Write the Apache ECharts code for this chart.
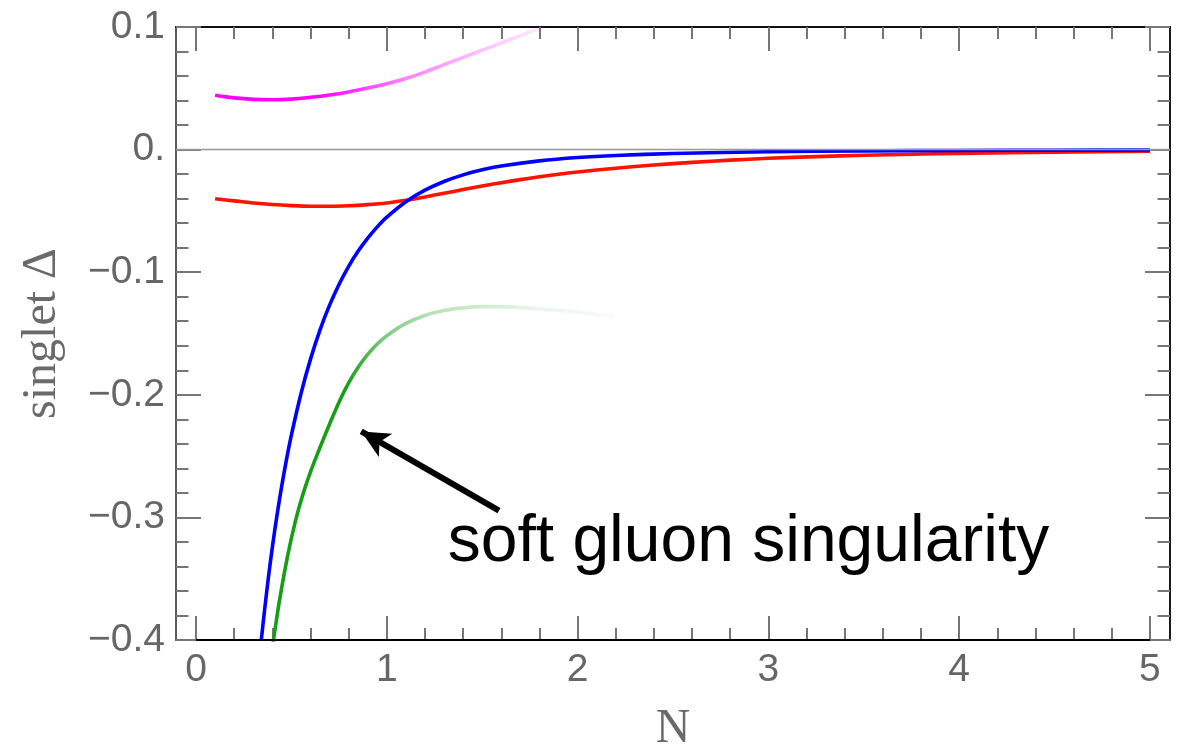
<!DOCTYPE html>
<html>
<head>
<meta charset="utf-8">
<script src="https://cdn.jsdelivr.net/npm/echarts@6/dist/echarts.min.js"></script>
<style>
  html, body { margin: 0; padding: 0; background: #fff; }
  #chart { width: 1190px; height: 746px; }
</style>
</head>
<body>
<div id="chart"></div>
<script>
// Singlet anomalous-dimension differences versus Mellin N

// magenta curve
const magentaN = [0.1, 0.2, 0.3, 0.4, 0.5, 0.6, 0.7, 0.8, 0.9, 1.0, 1.1, 1.2, 1.3, 1.4, 1.5, 1.6, 1.7, 1.8, 1.82];
const magentaD = [0.0443, 0.0422, 0.0410, 0.0406, 0.0412, 0.0427, 0.0446, 0.0470, 0.0502, 0.0537, 0.0580, 0.0632, 0.0693, 0.0752, 0.0811, 0.0870, 0.0930, 0.0990, 0.1002];

// red curve
const redN = [0.1, 0.2, 0.3, 0.4, 0.5, 0.6, 0.7, 0.8, 0.9, 1.0, 1.1, 1.2, 1.3, 1.4, 1.5, 1.6, 1.7, 1.8, 1.9, 2.0, 2.2, 2.4, 2.6, 2.8, 3.0, 3.25, 3.5, 3.75, 4.0, 4.5, 5.0];
const redD = [-0.0401, -0.0418, -0.0435, -0.0448, -0.0457, -0.0462, -0.0462, -0.0458, -0.0449, -0.0435, -0.0413, -0.0386, -0.0356, -0.0326, -0.0297, -0.0270, -0.0245, -0.0222, -0.0201, -0.0183, -0.0152, -0.0126, -0.0104, -0.0086, -0.0071, -0.0057, -0.0046, -0.0038, -0.0031, -0.0021, -0.0014];

// blue curve
const blueN = [0.342, 0.36, 0.38, 0.40, 0.425, 0.45, 0.475, 0.50, 0.55, 0.60, 0.65, 0.70, 0.75, 0.80, 0.85, 0.90, 0.95, 1.0, 1.1, 1.2, 1.3, 1.4, 1.5, 1.6, 1.8, 2.0, 2.2, 2.5, 3.0, 3.5, 4.0, 4.5, 5.0];
const blueD = [-0.4, -0.3746, -0.3481, -0.3243, -0.2976, -0.2737, -0.2521, -0.2327, -0.1991, -0.1709, -0.1470, -0.1269, -0.1098, -0.0952, -0.0828, -0.0722, -0.0630, -0.0551, -0.0425, -0.0331, -0.0260, -0.0206, -0.0165, -0.0134, -0.0092, -0.0065, -0.0048, -0.0032, -0.0018, -0.0011, -0.0007, -0.0005, -0.0003];

// green curve (soft gluon singularity)
const greenN = [0.40, 0.42, 0.44, 0.48, 0.52, 0.56, 0.60, 0.65, 0.70, 0.75, 0.80, 0.85, 0.90, 0.95, 1.0, 1.1, 1.2, 1.3, 1.4, 1.5, 1.6, 1.7, 1.8, 1.9, 2.0, 2.1, 2.19];
const greenD = [-0.407, -0.3851, -0.3654, -0.3314, -0.3036, -0.2812, -0.2628, -0.2428, -0.2238, -0.2058, -0.1903, -0.1776, -0.1671, -0.1586, -0.1518, -0.1418, -0.1353, -0.1313, -0.1291, -0.1281, -0.1281, -0.1288, -0.1298, -0.1311, -0.1326, -0.1343, -0.1359];

// tick labels
const xTicks = [0, 1, 2, 3, 4, 5];
const yTicks = [0.1, 0, -0.1, -0.2, -0.3, -0.4];

// annotation
const noteText = 'soft gluon singularity';
const noteAt = [1.319, -0.3206];
const arrowFrom = [1.588, -0.2945];
const arrowTo = [0.866, -0.2299];

const X_MIN = -0.105, X_MAX = 5.105;
const Y_MIN = -0.4, Y_MAX = 0.1;

const xMinor = [];
for (let i = 1; i < 25; i++) if (i % 5) xMinor.push(Math.round(i * 20) / 100);
const yMinor = [];
for (let i = -19; i < 5; i++) if (i % 5) yMinor.push(Math.round(i * 2) / 100);

const zip = (xs, ys) => xs.map((x, i) => [x, ys[i]]);

const tickStyle = { color: '#767676', width: 2 };
const labelFont = { fontSize: 39, color: '#666', fontFamily: 'Liberation Sans' };
const titleFont = { fontSize: 48, color: '#6a6a6a', fontFamily: 'Liberation Serif' };

function yLabel(v) {
  if (Math.abs(v) < 1e-9) return '0.';
  return (v < 0 ? '\u2212' : '') + Math.abs(v).toFixed(1);
}

function xAxisDef(pos, ticks, len, lineColor, labels) {
  return {
    type: 'value', position: pos, min: X_MIN, max: X_MAX,
    axisLine: { show: !!lineColor, onZero: false, lineStyle: { color: lineColor || '#000', width: 2 } },
    axisTick: { show: true, inside: true, length: len, customValues: ticks, lineStyle: tickStyle },
    axisLabel: labels ? Object.assign({ show: true, customValues: xTicks, margin: 11, formatter: v => String(v) }, labelFont) : { show: false },
    splitLine: { show: false },
    name: labels ? 'N' : '', nameLocation: 'middle', nameGap: 65, nameTextStyle: titleFont
  };
}
function yAxisDef(pos, ticks, len, lineColor, labels) {
  return {
    type: 'value', position: pos, min: Y_MIN, max: Y_MAX,
    axisLine: { show: !!lineColor, onZero: false, lineStyle: { color: lineColor || '#000', width: 2 } },
    axisTick: { show: true, inside: true, length: len, customValues: ticks, lineStyle: tickStyle },
    axisLabel: labels ? Object.assign({ show: true, customValues: yTicks, margin: 11, formatter: yLabel }, labelFont) : { show: false },
    splitLine: { show: false },
    name: labels ? 'singlet \u0394' : '', nameLocation: 'middle', nameGap: 110, nameRotate: 90, nameTextStyle: titleFont
  };
}

function fade(rgb, stops) {
  return {
    type: 'linear', x: 0, y: 0, x2: 1, y2: 0,
    colorStops: stops.map(s => ({ offset: s[0], color: 'rgba(' + rgb + ',' + s[1] + ')' }))
  };
}

const chart = echarts.init(document.getElementById('chart'), null, { renderer: 'canvas' });

const lineBase = { type: 'line', showSymbol: false, symbol: 'none', clip: true, smooth: 0.3, xAxisIndex: 0, yAxisIndex: 0, silent: true };

chart.setOption({
  animation: false,
  backgroundColor: '#fff',
  grid: { left: 176, right: 20, top: 27, bottom: 106, containLabel: false, outerBoundsMode: 'none' },
  xAxis: [
    xAxisDef('bottom', xTicks, 24, '#606060', true),
    xAxisDef('bottom', xMinor, 12, null, false),
    xAxisDef('top', xTicks, 24, '#111', false),
    xAxisDef('top', xMinor, 12, null, false)
  ],
  yAxis: [
    yAxisDef('left', yTicks, 25, '#5a5a5a', true),
    yAxisDef('left', yMinor, 12.5, null, false),
    yAxisDef('right', yTicks, 25, '#1a1a1a', false),
    yAxisDef('right', yMinor, 12.5, null, false)
  ],
  series: [
    Object.assign({}, lineBase, {
      name: 'frame', data: [],
      markLine: {
        silent: true, symbol: ['none', 'none'], label: { show: false }, animation: false,
        data: [
          { yAxis: 0, lineStyle: { color: '#999', width: 1.3, type: 'solid' } },
          [{ coord: [0, Y_MIN], lineStyle: { color: '#000', width: 2, type: 'solid' } }, { coord: [5, Y_MIN] }]
        ]
      }
    }),
    Object.assign({}, lineBase, {
      name: 'magenta', data: zip(magentaN, magentaD),
      lineStyle: { width: 3.6, color: fade('255,0,255', [[0, 1], [0.3, 1], [0.4, 0.85], [0.575, 0.5], [0.75, 0.3], [1, 0.07]]) }
    }),
    Object.assign({}, lineBase, {
      name: 'red', data: zip(redN, redD),
      lineStyle: { width: 3.6, color: '#ff1200' }
    }),
    Object.assign({}, lineBase, {
      name: 'blue', data: zip(blueN, blueD),
      lineStyle: { width: 3.6, color: '#0000ff' }
    }),
    Object.assign({}, lineBase, {
      name: 'green', data: zip(greenN, greenD),
      lineStyle: { width: 3.6, color: fade('22,158,22', [[0, 1], [0.22, 1], [0.28, 0.75], [0.33, 0.55], [0.47, 0.3], [0.76, 0.1], [1, 0.03]]) }
    }),
    Object.assign({}, lineBase, {
      name: 'note', data: [],
      markLine: {
        silent: true, animation: false, symbol: ['none', 'arrow'], symbolSize: [20, 28],
        label: { show: false },
        lineStyle: { color: '#000', width: 6, type: 'solid' },
        data: [[{ coord: arrowFrom }, { coord: arrowTo }]]
      },
      markPoint: {
        silent: true, animation: false, symbol: 'circle', symbolSize: 0,
        itemStyle: { color: 'transparent' },
        label: {
          show: true, position: 'right', distance: 0, formatter: noteText,
          fontSize: 66, color: '#000', fontFamily: 'Liberation Sans', align: 'left', verticalAlign: 'middle'
        },
        data: [{ coord: noteAt }]
      }
    })
  ]
});
</script>
</body>
</html>
